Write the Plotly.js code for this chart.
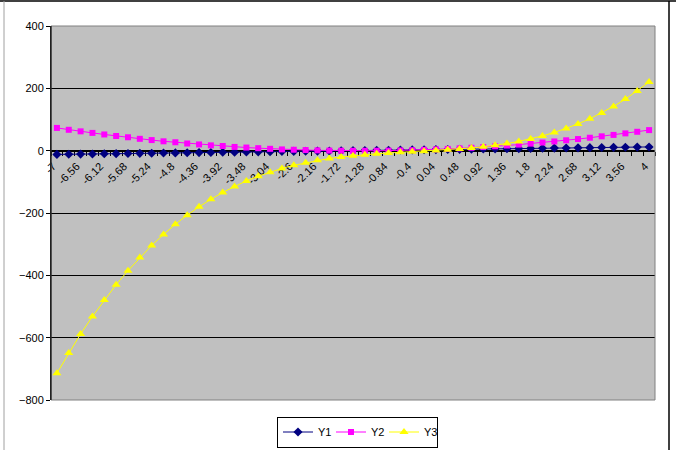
<!DOCTYPE html>
<html><head><meta charset="utf-8">
<script src="https://cdn.plot.ly/plotly-3.0.1.min.js"></script>
<style>html,body{margin:0;padding:0;background:#fff;overflow:hidden;}#chart{width:676px;height:450px;}</style>
</head><body><div id="chart"></div>
<script>
const xValues = [-7,-6.78,-6.56,-6.34,-6.12,-5.9,-5.68,-5.46,-5.24,-5.02,-4.8,-4.58,-4.36,-4.14,-3.92,-3.7,-3.48,-3.26,-3.04,-2.82,-2.6,-2.38,-2.16,-1.94,-1.72,-1.5,-1.28,-1.06,-0.84,-0.62,-0.4,-0.18,0.04,0.26,0.48,0.7,0.92,1.14,1.36,1.58,1.8,2.02,2.24,2.46,2.68,2.9,3.12,3.34,3.56,3.78,4];
const tickLabels = ['-7','-6.56','-6.12','-5.68','-5.24','-4.8','-4.36','-3.92','-3.48','-3.04','-2.6','-2.16','-1.72','-1.28','-0.84','-0.4','0.04','0.48','0.92','1.36','1.8','2.24','2.68','3.12','3.56','4'];
const y1 = [-12,-11.5,-11,-10.5,-10,-9.6,-9.1,-8.6,-8.1,-7.6,-7.2,-6.7,-6.2,-5.7,-5.2,-4.8,-4.3,-3.8,-3.3,-2.8,-2.4,-1.9,-1.4,-0.9,-0.5,0,0.5,1,1.5,1.9,2.4,2.9,3.4,3.9,4.3,4.8,5.3,5.8,6.3,6.7,7.2,7.7,8.2,8.7,9.1,9.6,10.1,10.6,11.1,11.5,12];
const y2 = [73,67,62,57,52,47,43,38,34,30,27,23,20,17,15,12,10,8,6,4,3,2,1,0.3,-0.2,-0.5,-0.5,-0.3,0.1,0.8,1.6,2.7,4.1,5.6,7.4,9.3,11.6,14,16.6,19.5,22.6,26,29.5,33.3,37.3,41.5,46,50.6,55.5,60.6,66];
const y3 = [-714,-649,-588,-532,-479,-430,-385,-343,-304,-269,-236,-207,-180,-156,-134,-115,-97,-82,-69,-57,-47,-39,-31,-25,-20,-16,-13,-10,-7.5,-5.4,-3.5,-1.6,0.4,2.6,5.3,8.5,12.4,17.2,22.9,29.7,37.8,47.4,58.4,71.2,85.8,102.4,121.1,142,165.4,191.3,220];
const seriesNames = ['Y1','Y2','Y3'];
const yTicks = [-800,-600,-400,-200,0,200,400];

const step = xValues[1] - xValues[0];
const xMin = xValues[0] - step/2, xMax = xValues[xValues.length-1] + step/2;
const tickVals = xValues.filter((v,i)=> i % 2 === 0);

const traces = [
  {x:xValues, y:y1, name:seriesNames[0], type:'scatter', mode:'lines+markers',
   line:{color:'#000080', width:1}, marker:{symbol:'diamond', size:7, color:'#000080'}},
  {x:xValues, y:y2, name:seriesNames[1], type:'scatter', mode:'lines+markers',
   line:{color:'#FF00FF', width:1}, marker:{symbol:'square', size:6, color:'#FF00FF'}},
  {x:xValues, y:y3, name:seriesNames[2], type:'scatter', mode:'lines+markers',
   line:{color:'#FFFF00', width:1}, marker:{symbol:'triangle-up', size:8, color:'#FFFF00'}}
];

const W = 676, H = 450, L = 51, R = 21, T = 26, B = 50;
const pw = W - L - R, ph = H - T - B;
const px = v => (v - L) / pw;
const py = v => (H - B - v) / ph;

const layout = {
  width: W, height: H,
  margin: {l:L, r:R, t:T, b:B, pad:0, autoexpand:false},
  paper_bgcolor: '#ffffff',
  plot_bgcolor: '#C0C0C0',
  font: {family: 'Liberation Sans, Arial, sans-serif', size: 11, color: '#000'},
  showlegend: true,
  legend: {orientation:'h', x: px(277), y: py(432), xanchor:'left', yanchor:'middle',
    bgcolor:'#ffffff', bordercolor:'#000', borderwidth:1, font:{size:11, color:'#000'},
    itemwidth:30, entrywidth:8, entrywidthmode:'pixels', tracegroupgap:0},
  xaxis: {
    type:'linear', range:[xMin, xMax], anchor:'free', position: 800/1200,
    showgrid:false, zeroline:false, showline:true, linecolor:'#000', linewidth:1,
    tickmode:'array', tickvals:tickVals, ticktext:tickLabels, tickangle:-45,
    ticks:'outside', ticklen:4, tickcolor:'rgba(0,0,0,0)', layer:'below traces',
    ticklabelshift:-4,
    tickfont:{size:11, color:'#000'},
    minor:{tickmode:'linear', tick0:xMin, dtick:step, ticks:'outside', ticklen:4, tickcolor:'#000', tickwidth:1, showgrid:false}
  },
  yaxis: {
    range:[-800, 400], tickmode:'array', tickvals:yTicks,
    showgrid:true, gridcolor:'#000', gridwidth:1, zeroline:false,
    showline:true, linecolor:'#000', linewidth:1, mirror:false,
    ticks:'outside', ticklen:4, tickcolor:'#000', tickfont:{size:11, color:'#000'}
  },
  shapes: [
    {type:'rect', xref:'paper', yref:'paper', x0:0, x1:1, y0:0, y1:1, line:{color:'#808080', width:1}, layer:'above'},
    {type:'line', xref:'paper', yref:'paper', x0:0, x1:0, y0:0, y1:1, line:{color:'#000', width:1}},
    {type:'line', xref:'paper', yref:'paper', x0:px(0), x1:px(676), y0:py(1), y1:py(1), line:{color:'#000', width:1.5}},
    {type:'line', xref:'paper', yref:'paper', x0:px(669), x1:px(669), y0:py(1), y1:py(450), line:{color:'#000', width:1.5}},
    {type:'line', xref:'paper', yref:'paper', x0:px(4), x1:px(4), y0:py(1), y1:py(450), line:{color:'#a0a0a0', width:1}}
  ]
};

Plotly.newPlot('chart', traces, layout, {displayModeBar:false, staticPlot:true});
</script>
</body></html>
